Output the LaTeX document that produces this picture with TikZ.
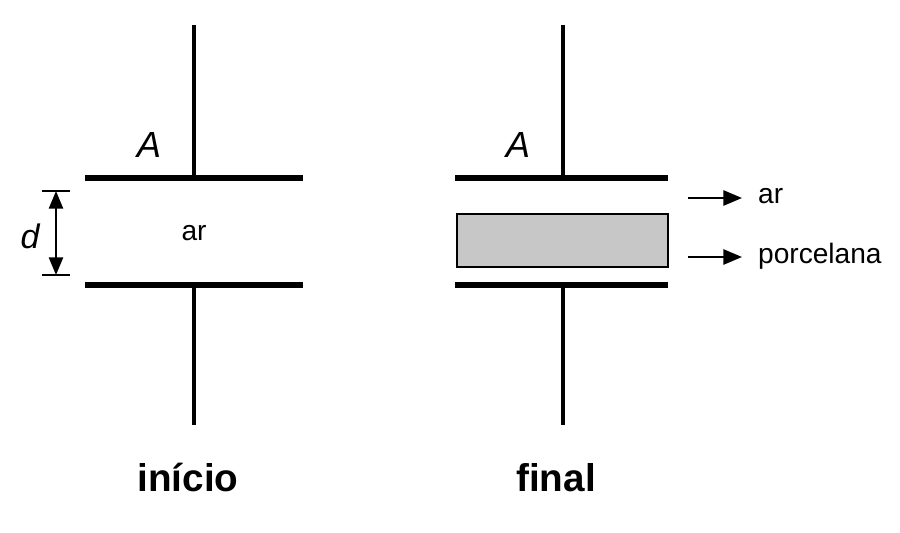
\documentclass[tikz,border=0pt]{standalone}
\usepackage{fontspec}
\setmainfont{Liberation Sans}
\usetikzlibrary{arrows.meta}
\begin{document}
\begin{tikzpicture}[x=0.03cm,y=-0.03cm,
  wire/.style={line width=4pt},
  plate/.style={line width=4.5pt},
  lbl/.style={font=\fontsize{24}{28}\selectfont},
  big/.style={font=\fontsize{33}{38}\selectfont\bfseries},
  arr/.style={line width=2pt,-{Triangle[length=16pt,width=13pt]}}]
\useasboundingbox (0,0) rectangle (900,532);
% left
\coordinate (lt) at (194,25); \coordinate (lp) at (194,178);
\coordinate (lb) at (194,285); \coordinate (le) at (194,425);
\draw[wire] (lt) -- (lp);
\draw[wire] (lb) -- (le);
\coordinate (l1a) at (85,178); \coordinate (l1b) at (303,178);
\coordinate (l2a) at (85,285); \coordinate (l2b) at (303,285);
\draw[plate] (l1a) -- (l1b);
\draw[plate] (l2a) -- (l2b);
\node[font=\fontsize{31}{35}\selectfont\itshape] (A1) at (149,145) {A};
\coordinate (dt) at (56,191); \coordinate (db) at (56,275);
\draw[line width=1.2pt] (42,191) -- (70,191);
\draw[line width=1.2pt] (42,275) -- (70,275);
\draw[line width=1.8pt,{Triangle[length=15pt,width=12pt]}-{Triangle[length=15pt,width=12pt]}] (dt) -- (db);
\node[font=\fontsize{29}{33}\selectfont\itshape] (d) at (30,236) {d};
\node[lbl] (ar1) at (194,233) {ar};
\node[big] (ini) at (188,478) {início};
% right
\coordinate (rt) at (563,25); \coordinate (rp) at (563,178);
\coordinate (rb) at (563,285); \coordinate (re) at (563,425);
\draw[wire] (rt) -- (rp);
\draw[wire] (rb) -- (re);
\draw[plate] (455,178) -- (668,178);
\draw[plate] (455,285) -- (668,285);
\draw[line width=1.2pt,fill=black!22] (457,214) rectangle (668,267);
\node[font=\fontsize{31}{35}\selectfont\itshape] (A2) at (518,145) {A};
\coordinate (a1s) at (688,198); \coordinate (a1e) at (742,198);
\coordinate (a2s) at (688,257); \coordinate (a2e) at (742,257);
\draw[arr] (a1s) -- (a1e);
\draw[arr] (a2s) -- (a2e);
\node[lbl,anchor=west] (ar2) at (754,196) {ar};
\node[lbl,anchor=west] (pc) at (754,256) {porcelana};
\node[big] (fin) at (556,478) {final};
\end{tikzpicture}
\end{document}
